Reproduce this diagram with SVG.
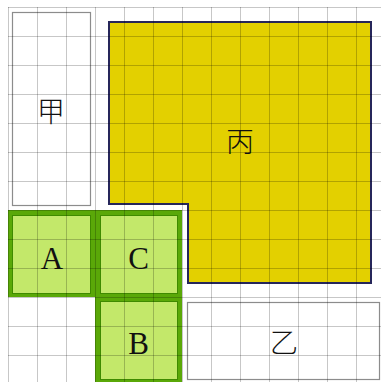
<svg xmlns="http://www.w3.org/2000/svg" width="381" height="382" viewBox="0 0 381 382">
<style>
.bg{fill:#ffffff}
.box{fill:#ffffff;stroke:#8c8c8c;stroke-width:1.2}
.gout{fill:#5aa808}
.gin{fill:#c3e86a;stroke:#3f8a00;stroke-width:1}
.yel{fill:#e3d000;stroke:#26265a;stroke-width:2}
.grid line{stroke:#000;stroke-opacity:0.22;stroke-width:1}
.lat{font-family:"Liberation Serif","DejaVu Serif",serif;font-size:31px;fill:#111;text-anchor:middle}
.cjk{font-family:"Noto Sans CJK SC","Noto Sans CJK JP",sans-serif;font-weight:300;font-size:28px;fill:#111;text-anchor:middle}
</style>
<rect class="bg" x="0" y="0" width="381" height="382"/>
<g id="jia">
<rect class="box" x="12.5" y="12.5" width="78" height="193"/>
<text class="cjk" x="51" y="122">甲</text>
</g>
<g id="yi">
<rect class="box" x="187.5" y="302.5" width="192" height="77"/>
<text class="cjk" x="284" y="353">乙</text>
</g>
<g id="bing">
<polygon class="yel" points="109,22 371,22 371,283 188,283 188,204 109,204"/>
<text class="cjk" x="240" y="152">丙</text>
</g>
<g id="A">
<rect class="gout" x="8" y="210" width="87" height="87"/>
<rect class="gin" x="12.5" y="215.5" width="78" height="78"/>
<text class="lat" x="52" y="269">A</text>
</g>
<g id="C">
<rect class="gout" x="95" y="210" width="87" height="87"/>
<rect class="gin" x="100.5" y="215.5" width="77" height="78"/>
<text class="lat" x="138.5" y="269">C</text>
</g>
<g id="B">
<rect class="gout" x="95" y="297" width="87" height="87"/>
<rect class="gin" x="100.5" y="301.5" width="77" height="78"/>
<text class="lat" x="138.5" y="354">B</text>
</g>
<g id="connectors"></g>
<g class="grid">
<line x1="8.5" y1="7" x2="8.5" y2="382"/>
<line x1="37.5" y1="7" x2="37.5" y2="382"/>
<line x1="66.5" y1="7" x2="66.5" y2="382"/>
<line x1="95.5" y1="7" x2="95.5" y2="382"/>
<line x1="124.5" y1="7" x2="124.5" y2="382"/>
<line x1="153.5" y1="7" x2="153.5" y2="382"/>
<line x1="182.5" y1="7" x2="182.5" y2="382"/>
<line x1="211.5" y1="7" x2="211.5" y2="382"/>
<line x1="240.5" y1="7" x2="240.5" y2="382"/>
<line x1="269.5" y1="7" x2="269.5" y2="382"/>
<line x1="298.5" y1="7" x2="298.5" y2="382"/>
<line x1="327.5" y1="7" x2="327.5" y2="382"/>
<line x1="356.5" y1="7" x2="356.5" y2="382"/>
<line x1="8" y1="7.5" x2="381" y2="7.5"/>
<line x1="8" y1="36.5" x2="381" y2="36.5"/>
<line x1="8" y1="65.5" x2="381" y2="65.5"/>
<line x1="8" y1="94.5" x2="381" y2="94.5"/>
<line x1="8" y1="123.5" x2="381" y2="123.5"/>
<line x1="8" y1="152.5" x2="381" y2="152.5"/>
<line x1="8" y1="181.5" x2="381" y2="181.5"/>
<line x1="8" y1="210.5" x2="381" y2="210.5"/>
<line x1="8" y1="239.5" x2="381" y2="239.5"/>
<line x1="8" y1="268.5" x2="381" y2="268.5"/>
<line x1="8" y1="297.5" x2="381" y2="297.5"/>
<line x1="8" y1="326.5" x2="381" y2="326.5"/>
<line x1="8" y1="355.5" x2="381" y2="355.5"/>
</g>
</svg>
